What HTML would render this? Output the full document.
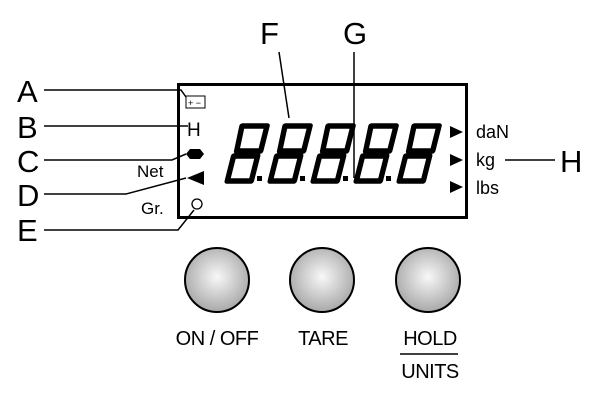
<!DOCTYPE html>
<html><head><style>body{margin:0;background:#fff}svg{display:block}</style></head><body>
<svg width="600" height="400" viewBox="0 0 600 400" font-family="Liberation Sans, sans-serif">
<defs>
<radialGradient id="g" cx="0.5" cy="0.45" r="0.55"><stop offset="0" stop-color="#f8f8f8"/><stop offset="1" stop-color="#a8a8a8"/></radialGradient>
<g id="d">
<path d="M1,0 h25 l-1,25 h-24 z M-1,30 h24 l-1,25 h-24 z" fill="none" stroke="#000" stroke-width="5.5" stroke-linejoin="round"/>
</g>
</defs>
<rect x="178.5" y="84.5" width="288" height="133" fill="none" stroke="#000" stroke-width="3"/>
<g fill="#000" font-size="31">
<text x="17" y="102">A</text><text x="17" y="138">B</text><text x="17" y="172">C</text><text x="17" y="206">D</text><text x="17" y="241">E</text>
<text x="260" y="44">F</text><text x="343" y="44">G</text><text x="560" y="172">H</text>
</g>
<g stroke="#000" stroke-width="1.5" fill="none">
<path d="M44,90 H181 L186,97"/>
<path d="M44,126 H188"/>
<path d="M44,160 H172 L186,154"/>
<path d="M44,194 H126 L186,178"/>
<path d="M44,230 H178 L194,210"/>
<path d="M279,52 L289,118"/>
<path d="M354,52 V178"/>
<path d="M505,160 H555"/>
</g>
<rect x="186" y="96" width="19" height="12" fill="#fff" stroke="#000" stroke-width="1"/>
<text x="188" y="106" font-size="9">+ −</text>
<text x="187" y="136" font-size="19">H</text>
<path d="M190,149 h10 l4,5 l-4,5 h-10 l-4,-5 z" fill="#000"/>
<text x="137" y="177" font-size="17">Net</text>
<path d="M187,178 L204,171 V185 z" fill="#000"/>
<text x="141" y="214" font-size="17">Gr.</text>
<circle cx="197" cy="204" r="5" fill="#fff" stroke="#000" stroke-width="1.3"/>
<g transform="translate(0,126) skewX(-12)" >
<g transform="translate(241,0)"><use href="#d"/></g>
<g transform="translate(284,0)"><use href="#d"/></g>
<g transform="translate(327,0)"><use href="#d"/></g>
<g transform="translate(370,0)"><use href="#d"/></g>
<g transform="translate(413,0)"><use href="#d"/></g>
</g>
<g fill="#000">
<rect x="257" y="176" width="5" height="5"/><rect x="300" y="176" width="5" height="5"/><rect x="343" y="176" width="5" height="5"/><rect x="386" y="176" width="5" height="5"/>
<path d="M450,126 L463,132 L450,138z M450,154 L463,160 L450,166z M450,181 L463,187 L450,193z"/>
</g>
<g font-size="18" fill="#000">
<text x="476" y="138">daN</text><text x="476" y="166">kg</text><text x="476" y="194">lbs</text>
</g>
<g stroke="#000" stroke-width="2" fill="url(#g)">
<circle cx="217" cy="280" r="32"/><circle cx="322" cy="280" r="32"/><circle cx="428" cy="280" r="32"/>
</g>
<g font-size="20" fill="#000" text-anchor="middle" letter-spacing="-0.5">
<text x="217" y="345">ON / OFF</text><text x="323" y="345">TARE</text><text x="430" y="345">HOLD</text><text x="430" y="378">UNITS</text>
</g>
<path d="M400,354 H458" stroke="#000" stroke-width="1.5"/>
</svg>
</body></html>
